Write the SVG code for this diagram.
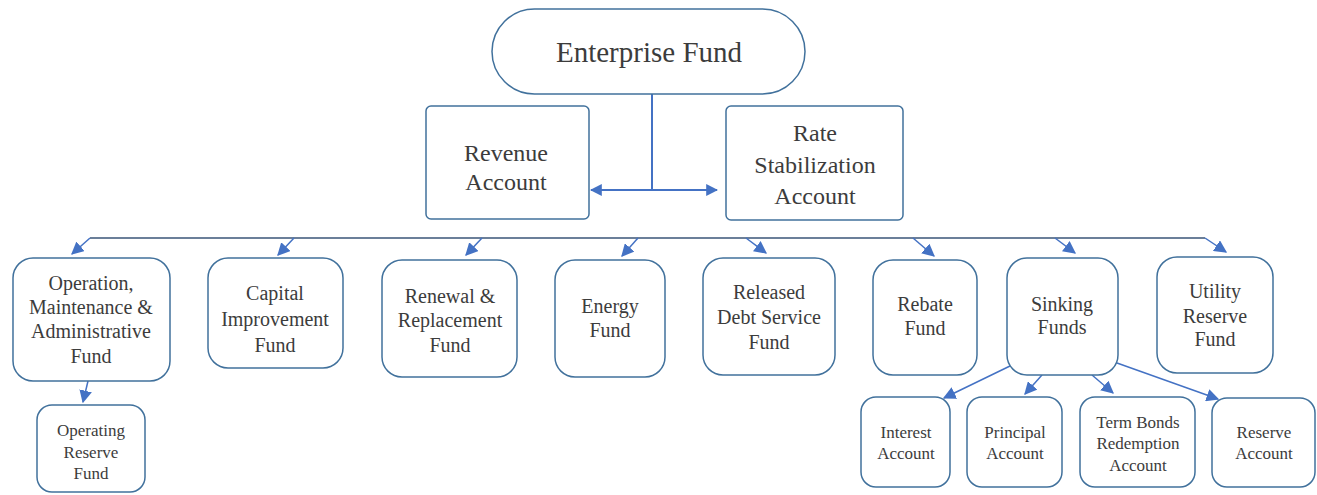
<svg xmlns="http://www.w3.org/2000/svg" width="1317" height="495" viewBox="0 0 1317 495" font-family="'Liberation Serif', 'DejaVu Serif', serif">
<defs>
<marker id="ah" viewBox="0 0 10 10" refX="9" refY="5" markerWidth="8.5" markerHeight="8.5" orient="auto" markerUnits="strokeWidth">
<path d="M0,0 L10,5 L0,10 z" fill="#4472c4"/>
</marker>
<marker id="ah2" viewBox="0 0 10 10" refX="9" refY="5" markerWidth="6" markerHeight="6" orient="auto" markerUnits="strokeWidth">
<path d="M0,0 L10,5 L0,10 z" fill="#4472c4"/>
</marker>
<style>
.box{fill:#fff;stroke:#41719c;stroke-width:1.5}
text{fill:#3c3c3c;text-anchor:middle;dominant-baseline:central}
.t1{font-size:29px}
.t2{font-size:24px}
.t3{font-size:20px}
.t4{font-size:17px}
.c{fill:none;stroke:#4472c4;stroke-width:2}
.a{fill:none;stroke:#4472c4;stroke-width:1.5;marker-end:url(#ah)}
</style>
</defs>
<rect width="1317" height="495" fill="#fff"/>
<g id="connectors">
<path class="c" d="M652,94 V190"/>
<path class="c" d="M652,190 H591" marker-end="url(#ah2)"/>
<path class="c" d="M652,190 H717" marker-end="url(#ah2)"/>
<path class="c" d="M90,238 H1205" style="stroke:#6b7f99;stroke-width:2"/>
<path class="a" d="M90,238 L72,254"/>
<path class="a" d="M294,238 L278,255"/>
<path class="a" d="M482,238 L466,255"/>
<path class="a" d="M638,238 L622,256"/>
<path class="a" d="M746,238 L766,253"/>
<path class="a" d="M913,238 L934,256"/>
<path class="a" d="M1055,238 L1075,253"/>
<path class="a" d="M1205,238 L1226,252"/>
<path class="a" d="M88,381 L83,402"/>
<path class="a" d="M1010,366 L944,398"/>
<path class="a" d="M1042,375 L1025,394"/>
<path class="a" d="M1092,375 L1113,393"/>
<path class="a" d="M1117,363 L1218,399"/>
</g>
<g id="enterprise"><rect class="box" x="492" y="9" width="313" height="85" rx="42.5"/><text class="t1" x="649" y="52">Enterprise Fund</text></g>
<g id="revenue"><rect class="box" x="426" y="106" width="163" height="113" rx="5"/><text class="t2" x="506" y="153">Revenue</text><text class="t2" x="506" y="182">Account</text></g>
<g id="rate"><rect class="box" x="726" y="106" width="177" height="114" rx="5"/><text class="t2" x="815" y="133">Rate</text><text class="t2" x="815" y="165">Stabilization</text><text class="t2" x="815" y="196">Account</text></g>
<g id="operation"><rect class="box" x="13" y="258" width="157" height="123" rx="20"/><text class="t3" x="91" y="283">Operation,</text><text class="t3" x="91" y="307">Maintenance &amp;</text><text class="t3" x="91" y="331">Administrative</text><text class="t3" x="91" y="356">Fund</text></g>
<g id="capital"><rect class="box" x="208" y="258" width="135" height="110" rx="20"/><text class="t3" x="275" y="293">Capital</text><text class="t3" x="275" y="319">Improvement</text><text class="t3" x="275" y="345">Fund</text></g>
<g id="renewal"><rect class="box" x="382" y="260" width="135" height="117" rx="20"/><text class="t3" x="450" y="296">Renewal &amp;</text><text class="t3" x="450" y="320">Replacement</text><text class="t3" x="450" y="345">Fund</text></g>
<g id="energy"><rect class="box" x="555" y="260" width="110" height="117" rx="20"/><text class="t3" x="610" y="306">Energy</text><text class="t3" x="610" y="330">Fund</text></g>
<g id="released"><rect class="box" x="703" y="258" width="132" height="117" rx="20"/><text class="t3" x="769" y="292">Released</text><text class="t3" x="769" y="317">Debt Service</text><text class="t3" x="769" y="342">Fund</text></g>
<g id="rebate"><rect class="box" x="873" y="260" width="104" height="115" rx="20"/><text class="t3" x="925" y="304">Rebate</text><text class="t3" x="925" y="328">Fund</text></g>
<g id="sinking"><rect class="box" x="1007" y="258" width="111" height="117" rx="20"/><text class="t3" x="1062" y="304">Sinking</text><text class="t3" x="1062" y="327">Funds</text></g>
<g id="utility"><rect class="box" x="1157" y="257" width="116" height="116" rx="20"/><text class="t3" x="1215" y="291">Utility</text><text class="t3" x="1215" y="316">Reserve</text><text class="t3" x="1215" y="339">Fund</text></g>
<g id="opreserve"><rect class="box" x="37" y="405" width="108" height="87" rx="15"/><text class="t4" x="91" y="430">Operating</text><text class="t4" x="91" y="452">Reserve</text><text class="t4" x="91" y="473">Fund</text></g>
<g id="interest"><rect class="box" x="861" y="397" width="89" height="90" rx="15"/><text class="t4" x="906" y="432">Interest</text><text class="t4" x="906" y="453">Account</text></g>
<g id="principal"><rect class="box" x="967" y="397" width="95" height="90" rx="15"/><text class="t4" x="1015" y="432">Principal</text><text class="t4" x="1015" y="453">Account</text></g>
<g id="termbonds"><rect class="box" x="1080" y="397" width="115" height="90" rx="15"/><text class="t4" x="1138" y="422">Term Bonds</text><text class="t4" x="1138" y="443">Redemption</text><text class="t4" x="1138" y="465">Account</text></g>
<g id="reserve"><rect class="box" x="1212" y="398" width="103" height="89" rx="15"/><text class="t4" x="1264" y="432">Reserve</text><text class="t4" x="1264" y="453">Account</text></g>
</svg>
